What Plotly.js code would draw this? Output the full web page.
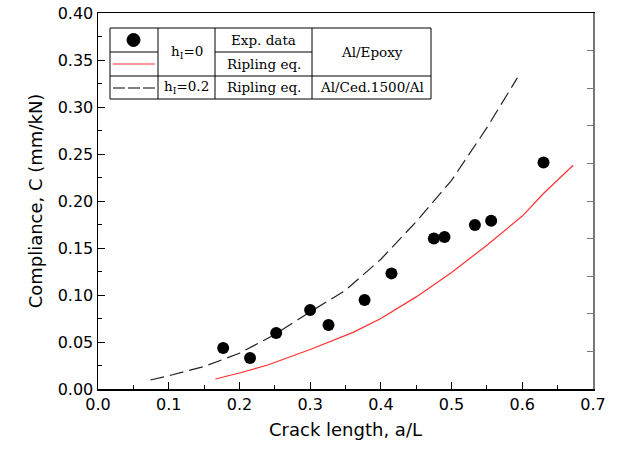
<!DOCTYPE html>
<html>
<head>
<meta charset="utf-8">
<script src="https://cdn.plot.ly/plotly-3.0.1.min.js"></script>
<style>html,body{margin:0;padding:0;background:#fff;}#chart{width:617px;height:453px;}</style>
</head>
<body>
<div id="chart"></div>
<script>
// Experimental data, h_I = 0 (Al/Epoxy)
const expX = [0.177, 0.215, 0.252, 0.300, 0.326, 0.377, 0.415, 0.475, 0.490, 0.533, 0.556, 0.630];
const expY = [0.0436, 0.033, 0.0596, 0.084, 0.068, 0.0947, 0.123, 0.160, 0.1617, 0.1745, 0.179, 0.241];

// Ripling eq., h_I = 0 (red)
const rip0X = [0.166, 0.20, 0.24, 0.30, 0.36, 0.40, 0.45, 0.50, 0.55, 0.60, 0.63, 0.672];
const rip0Y = [0.0106, 0.017, 0.0255, 0.042, 0.060, 0.075, 0.098, 0.124, 0.153, 0.184, 0.208, 0.238];

// Ripling eq., h_I = 0.2 (dashed)
const rip2X = [0.074, 0.10, 0.15, 0.20, 0.25, 0.30, 0.35, 0.40, 0.45, 0.50, 0.55, 0.593];
const rip2Y = [0.0096, 0.014, 0.024, 0.038, 0.058, 0.082, 0.105, 0.138, 0.178, 0.222, 0.278, 0.331];

const xTitle = 'Crack length, a/L';
const yTitle = 'Compliance, C (mm/kN)';

// plot-area pixel frame
const L = 98, R = 593, T = 13, B = 389;
const W = 617, H = 453;
const px = x => (x - L) / (R - L);
const py = y => (B - y) / (B - T);

const traces = [
  {x: rip2X, y: rip2Y, mode: 'lines', type: 'scatter',
   line: {color: '#222', width: 1.2, dash: '14px,6px'}, hoverinfo: 'skip'},
  {x: rip0X, y: rip0Y, mode: 'lines', type: 'scatter',
   line: {color: '#ff3030', width: 1.2}, hoverinfo: 'skip'},
  {x: expX, y: expY, mode: 'markers', type: 'scatter',
   marker: {color: '#000', size: 12, symbol: 'circle'}},
  {x: [0], y: [0], yaxis: 'y2', mode: 'markers', marker: {opacity: 0}, hoverinfo: 'skip'}
];

// legend table
const tL = 110, tR = 431, tT = 28, tB = 99;
const c1 = 158, c2 = 215, c3 = 312, r1 = 52, r2 = 76;
const ln = (x0, y0, x1, y1, extra) => Object.assign({type: 'line', xref: 'paper', yref: 'paper',
  x0: px(x0), y0: py(y0), x1: px(x1), y1: py(y1), line: {color: '#000', width: 1}}, extra || {});

const shapes = [
  {type: 'rect', xref: 'paper', yref: 'paper', x0: px(tL), x1: px(tR), y0: py(tB), y1: py(tT),
   fillcolor: '#fff', line: {color: '#000', width: 1}, layer: 'above'},
  ln(c1, tT, c1, tB), ln(c2, tT, c2, tB), ln(c3, tT, c3, tB),
  ln(tL, r2, tR, r2), ln(tL, r1, c1, r1), ln(c2, r1, c3, r1),
  {type: 'circle', xref: 'paper', yref: 'paper', x0: px(127), x1: px(140), y0: py(46.5), y1: py(33.5),
   fillcolor: '#000', line: {color: '#000', width: 1}},
  ln(113, 64, 155, 64, {line: {color: '#ff3030', width: 1.2}}),
  ln(113, 88, 155, 88, {line: {color: '#000', width: 1.2, dash: '12px,3px'}})
];

const tf = {family: 'DejaVu Serif, Liberation Serif, serif', size: 13.5, color: '#000'};
const ann = (x, y, text) => ({xref: 'paper', yref: 'paper', x: px(x), y: py(y), text: text,
  showarrow: false, font: tf, xanchor: 'center', yanchor: 'middle'});
const annotations = [
  ann(186.5, 52, 'h<sub>I</sub>=0'),
  ann(263.5, 40, 'Exp. data'),
  ann(263.5, 64, 'Ripling eq.'),
  ann(371.5, 52, 'Al/Epoxy'),
  ann(186.5, 87.5, 'h<sub>I</sub>=0.2'),
  ann(263.5, 87.5, 'Ripling eq.'),
  ann(371.5, 87.5, 'Al/Ced.1500/Al')
];

const af = {family: 'DejaVu Sans, Liberation Sans, sans-serif', size: 16, color: '#000'};
const tt = {family: 'DejaVu Sans, Liberation Sans, sans-serif', size: 18, color: '#000'};

const layout = {
  width: W, height: H,
  margin: {l: L, r: W - R, t: T, b: H - B, pad: 0},
  paper_bgcolor: '#fff', plot_bgcolor: '#fff',
  showlegend: false,
  font: af,
  xaxis: {range: [0, 0.7], dtick: 0.1, tickformat: '.1f', ticks: 'inside', ticklen: 7,
    tickcolor: '#000', showline: true, linecolor: '#000', linewidth: 1.5, mirror: true,
    showgrid: false, zeroline: false, tickfont: af,
    minor: {dtick: 0.05, ticks: 'inside', ticklen: 4, tickcolor: '#000'},
    title: {text: xTitle, font: tt, standoff: 10}},
  yaxis: {range: [0, 0.4], dtick: 0.05, tickformat: '.2f', ticks: 'inside', ticklen: 7,
    tickcolor: '#000', showline: true, linecolor: '#000', linewidth: 1.5,
    showgrid: false, zeroline: false, tickfont: af,
    minor: {dtick: 0.025, ticks: 'inside', ticklen: 4, tickcolor: '#000'},
    title: {text: yTitle, font: tt, standoff: 10}},
  yaxis2: {overlaying: 'y', side: 'right', range: [0, 0.4], dtick: 0.04, ticks: 'inside',
    ticklen: 6, tickcolor: '#777', showline: true, linecolor: '#777', linewidth: 2,
    showticklabels: false, showgrid: false, zeroline: false},
  shapes: shapes,
  annotations: annotations
};

Plotly.newPlot('chart', traces, layout, {staticPlot: true, displayModeBar: false});
</script>
</body>
</html>
